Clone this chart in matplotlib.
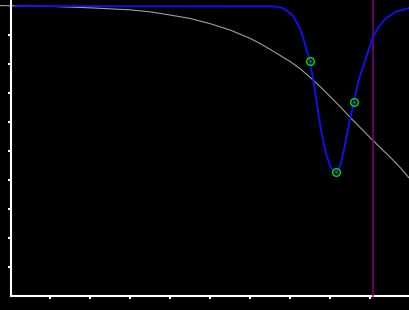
import matplotlib
matplotlib.use("Agg")
import matplotlib.pyplot as plt

# gray curve (slow decay)
gray_x = [-0.25, 0, 1, 2, 3, 3.5, 4, 4.5, 5, 5.5, 6, 6.25, 6.5, 6.75, 7,
          7.25, 7.5, 7.75, 8, 8.25, 8.5, 8.75, 9, 9.25, 9.5, 9.75, 10]
gray_y = [1.000, 0.999, 0.997, 0.992, 0.985, 0.978, 0.967, 0.955, 0.937,
          0.915, 0.886, 0.868, 0.848, 0.827, 0.806, 0.781, 0.751, 0.719,
          0.685, 0.650, 0.613, 0.578, 0.543, 0.509, 0.476, 0.440, 0.400]

# blue curve (dip)
blue_x = [0.125, 6.55, 6.8, 6.925, 7.05, 7.133, 7.218, 7.3, 7.383, 7.483,
          7.575, 7.667, 7.75, 7.833, 7.917, 8.0, 8.07, 8.138, 8.2, 8.25,
          8.333, 8.417, 8.5, 8.583, 8.7, 8.875, 9.05, 9.2, 9.375, 9.625, 10.0]
blue_y = [0.998, 0.997, 0.992, 0.980, 0.966, 0.948, 0.925, 0.897, 0.856, 0.809,
          0.738, 0.655, 0.580, 0.523, 0.477, 0.443, 0.431, 0.426, 0.437, 0.452,
          0.500, 0.558, 0.615, 0.667, 0.741, 0.814, 0.888, 0.926, 0.955, 0.978, 0.993]

# marked points on the blue curve
pts_x = [7.483, 8.138, 8.583]
pts_y = [0.809, 0.426, 0.667]

vline_x = 9.06

fig = plt.figure(figsize=(4.1, 3.1), dpi=100, facecolor="black")
ax = fig.add_axes([0, 0, 1, 1], facecolor="black")

ax.plot(gray_x, gray_y, color="#a0a0a0", lw=0.8, zorder=2)
ax.plot([vline_x, vline_x], [0, 1.1], color="#800080", lw=1.1, zorder=3)
ax.plot(blue_x, blue_y, color="#1010ff", lw=1.3, zorder=4)
ax.plot(pts_x, pts_y, "o", ms=5.5, mfc="none", mec="#00e000", mew=1, zorder=5)
ax.plot(pts_x, pts_y, ".", ms=1.5, color="#00a000", zorder=5)

ax.set_xlim(-0.2625, 9.9875)
ax.set_ylim(-0.05, 1.019)

for s in ["top", "right"]:
    ax.spines[s].set_visible(False)
ax.spines["left"].set_position(("data", 0))
ax.spines["bottom"].set_position(("data", 0))
ax.spines["left"].set_bounds(0, 1.019)
ax.spines["bottom"].set_bounds(0, 10)
for s in ["left", "bottom"]:
    ax.spines[s].set_color("white")
    ax.spines[s].set_linewidth(1.5)

ax.set_xticks(range(1, 10))
ax.set_yticks([i / 10 for i in range(1, 10)])
ax.set_xticklabels([])
ax.set_yticklabels([])
ax.tick_params(colors="white", direction="out", length=2.2, width=1.5)

fig.savefig("out.png", dpi=100, facecolor="black")
